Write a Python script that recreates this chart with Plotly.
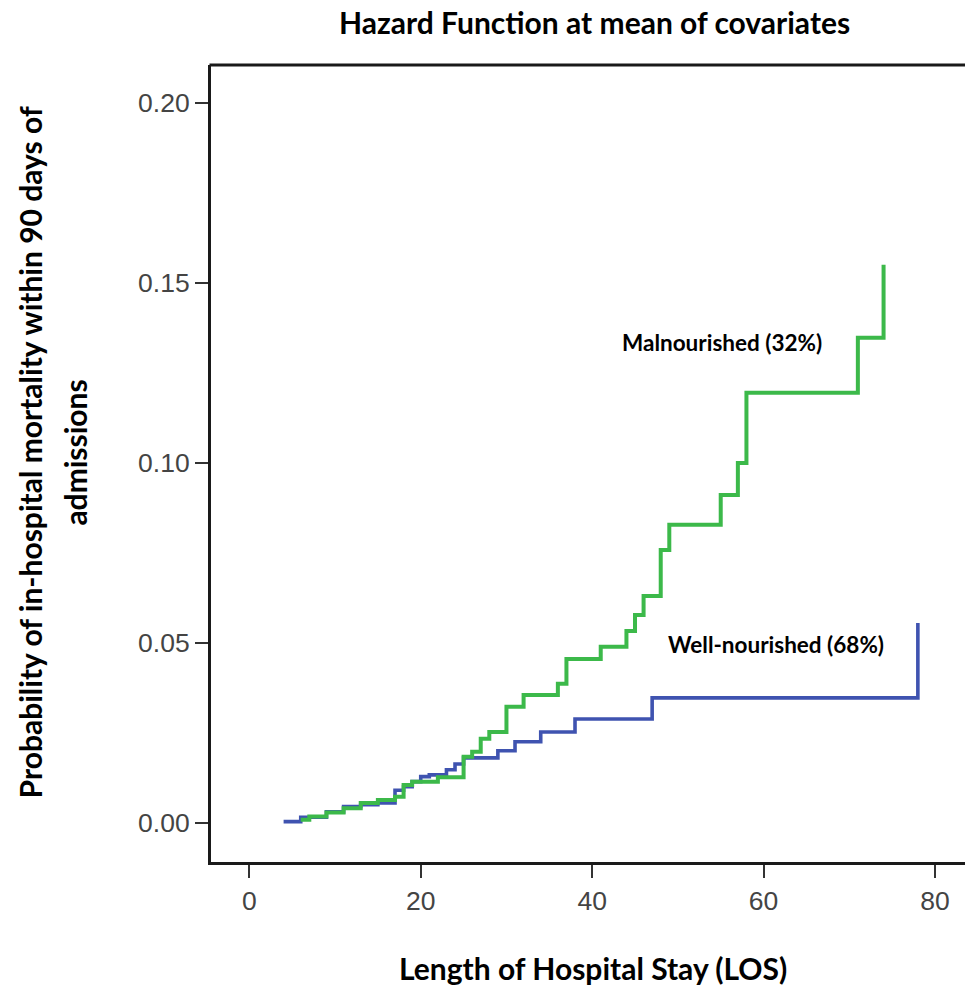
import plotly.graph_objects as go

# Step data (LOS days, cumulative hazard)
blue_t = [4, 6, 9, 11, 13, 15, 17, 18, 19, 20, 21, 23, 24, 25, 29, 31, 34, 38, 47, 78]
blue_v = [0.0003, 0.0015, 0.003, 0.0045, 0.005, 0.0055, 0.009, 0.010, 0.0114, 0.0128,
          0.0133, 0.0147, 0.0163, 0.018, 0.0200, 0.0225, 0.0252, 0.0288, 0.0347, 0.0555]

green_t = [6, 7, 9, 11, 13, 15, 17, 18, 19, 22, 25, 26, 27, 28, 30, 32, 36, 37, 41, 44,
           45, 46, 48, 49, 55, 57, 58, 71, 74]
green_v = [0.0008, 0.0017, 0.0028, 0.004, 0.0055, 0.0063, 0.0072, 0.0105, 0.0114, 0.0126,
           0.0183, 0.0197, 0.0233, 0.0252, 0.0322, 0.0355, 0.0386, 0.0455, 0.0489, 0.0533,
           0.0577, 0.063, 0.0758, 0.0828, 0.0911, 0.100, 0.1195, 0.1348, 0.1551]

x_ticks = [0, 20, 40, 60, 80]
y_ticks = [0.00, 0.05, 0.10, 0.15, 0.20]
y_tick_labels = ["0.00", "0.05", "0.10", "0.15", "0.20"]

title_text = "Hazard Function at mean of covariates"
x_title = "Length of Hospital Stay (LOS)"
y_title_1 = "Probability of in-hospital mortality within 90 days of"
y_title_2 = "admissions"
label_mal = "Malnourished (32%)"
label_well = "Well-nourished (68%)"

BLUE = "#3f53b0"
GREEN = "#3cb94a"
BOLD_FONT = "Lato"

fig = go.Figure()
fig.add_trace(go.Scatter(x=blue_t, y=blue_v, mode="lines", line=dict(shape="hv", color=BLUE, width=3.6),
                         showlegend=False, hoverinfo="skip"))
fig.add_trace(go.Scatter(x=green_t, y=green_v, mode="lines", line=dict(shape="hv", color=GREEN, width=4),
                         showlegend=False, hoverinfo="skip"))

axis_common = dict(showgrid=False, zeroline=False, showline=True, linewidth=3, linecolor="#1a1a1a",
                   ticks="outside", ticklen=13, tickwidth=2, tickcolor="#333333",
                   tickfont=dict(family="Liberation Sans", size=26.5, color="#444444"))

fig.update_xaxes(range=[-4.47, 83.5], tickvals=x_ticks, ticktext=[str(v) for v in x_ticks], **axis_common)
fig.update_yaxes(range=[-0.01093, 0.2106], tickvals=y_ticks, ticktext=y_tick_labels, **axis_common)

fig.add_shape(type="line", xref="paper", yref="paper", x0=-0.002, x1=1.01, y0=1.0, y1=1.0,
              line=dict(color="#1a1a1a", width=3))

def bold(t):
    return "<b>" + t + "</b>"

fig.add_annotation(text=bold(title_text), xref="paper", yref="paper", x=0.509, y=1.054,
                   xanchor="center", yanchor="middle", showarrow=False,
                   font=dict(family=BOLD_FONT, size=30, color="#000000"))
fig.add_annotation(text=bold(x_title), xref="paper", yref="paper", x=0.507, y=-0.133,
                   xanchor="center", yanchor="middle", showarrow=False,
                   font=dict(family=BOLD_FONT, size=30, color="#000000"))
fig.add_annotation(text=bold(y_title_1), xref="paper", yref="paper", x=-0.240, y=0.514,
                   xanchor="center", yanchor="middle", showarrow=False, textangle=-90,
                   font=dict(family=BOLD_FONT, size=30, color="#000000"))
fig.add_annotation(text=bold(y_title_2), xref="paper", yref="paper", x=-0.180, y=0.514,
                   xanchor="center", yanchor="middle", showarrow=False, textangle=-90,
                   font=dict(family=BOLD_FONT, size=30, color="#000000"))
fig.add_annotation(text=bold(label_mal), x=55.2, y=0.1334, xanchor="center", yanchor="middle",
                   showarrow=False, font=dict(family=BOLD_FONT, size=22.5, color="#000000"))
fig.add_annotation(text=bold(label_well), x=61.5, y=0.0494, xanchor="center", yanchor="middle",
                   showarrow=False, font=dict(family=BOLD_FONT, size=22.5, color="#000000"))

fig.update_layout(width=965, height=986, margin=dict(l=211, r=0, t=65, b=124),
                  plot_bgcolor="white", paper_bgcolor="white")

# remove the default 8px page margin so the figure fills the window exactly
fig.write_html("out.html", config={"displayModeBar": False},
               post_script="document.body.style.margin='0';document.body.style.overflow='hidden';")
